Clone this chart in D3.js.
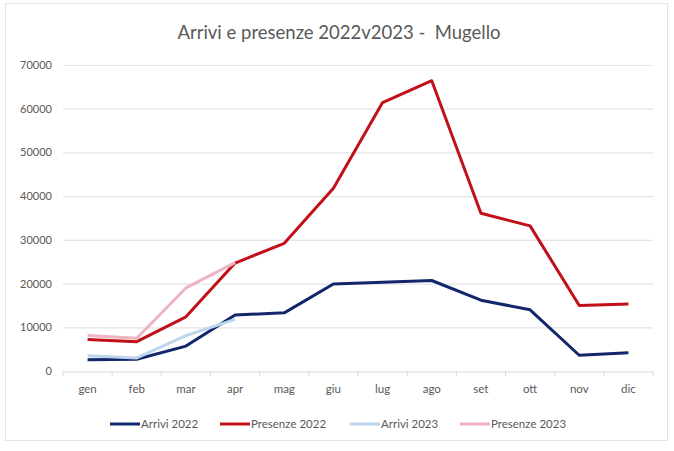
<!DOCTYPE html>
<html>
<head>
<meta charset="utf-8">
<script src="https://cdn.jsdelivr.net/npm/d3@7"></script>
<style>
  body { margin: 0; background: #fff; }
  svg { font-family: Lato, "Open Sans", sans-serif; }
</style>
</head>
<body>
<div id="chart"></div>
<script>
// mesi
const months = ['gen', 'feb', 'mar', 'apr', 'mag', 'giu', 'lug', 'ago', 'set', 'ott', 'nov', 'dic'];
// valori
const arrivi2022 = [2600, 2700, 5700, 12800, 13300, 19900, 20300, 20700, 16200, 14000, 3600, 4200];
const presenze2022 = [7200, 6700, 12400, 24700, 29200, 41800, 61400, 66400, 36100, 33200, 15000, 15300];
const arrivi2023 = [3500, 3000, 8100, 11800];
const presenze2023 = [8100, 7500, 19000, 24800];
const yTicks = [0, 10000, 20000, 30000, 40000, 50000, 60000, 70000];

const series = [
  { name: 'Arrivi 2022', values: arrivi2022, color: '#13266b' },
  { name: 'Presenze 2022', values: presenze2022, color: '#c2101a' },
  { name: 'Arrivi 2023', values: arrivi2023, color: '#bcd6ec' },
  { name: 'Presenze 2023', values: presenze2023, color: '#f2b3c0' },
];

const width = 674, height = 451;
const margin = { left: 63, right: 21, top: 65, bottom: 80 };

const svg = d3.select('#chart').append('svg')
  .attr('width', width)
  .attr('height', height);

// cornice
svg.append('rect')
  .attr('x', 5.5).attr('y', 3.5)
  .attr('width', 662).attr('height', 437)
  .attr('fill', '#fff')
  .attr('stroke', '#e3e3e3');

svg.append('text')
  .attr('x', 339).attr('y', 39)
  .attr('text-anchor', 'middle')
  .attr('font-size', 18.5)
  .attr('fill', '#595959')
  .style('white-space', 'pre')
  .text('Arrivi e presenze 2022v2023 -  Mugello');

const x = d3.scaleBand()
  .domain(months)
  .range([margin.left, width - margin.right]);

const y = d3.scaleLinear()
  .domain([0, 70000])
  .range([371, 65]);

// griglia
svg.append('g')
  .selectAll('line')
  .data(yTicks.slice(1))
  .join('line')
  .attr('x1', margin.left).attr('x2', width - margin.right)
  .attr('y1', d => y(d) + 0.5).attr('y2', d => y(d) + 0.5)
  .attr('stroke', '#e4e4e4')
  .attr('stroke-width', 1.2);

// asse y
const yAxis = svg.append('g')
  .attr('transform', `translate(${margin.left - 8},0)`)
  .call(d3.axisLeft(y).tickValues(yTicks).tickSize(0).tickFormat(d3.format('d')));
yAxis.select('.domain').remove();
yAxis.selectAll('text').attr('font-size', 11).attr('fill', '#595959').attr('font-family', 'Lato, sans-serif');

// asse x
const xAxis = svg.append('g')
  .attr('transform', `translate(0,${y(0) + 0.5})`)
  .call(d3.axisBottom(x).tickSize(0).tickPadding(13));
xAxis.select('.domain').attr('stroke', '#d9d9d9').attr('stroke-width', 1.2);
xAxis.selectAll('text').attr('font-size', 11.5).attr('fill', '#595959').attr('font-family', 'Lato, sans-serif');

// tacche tra le categorie
svg.append('g')
  .selectAll('line')
  .data(months.concat(['end']))
  .join('line')
  .attr('x1', (d, i) => margin.left + i * x.bandwidth())
  .attr('x2', (d, i) => margin.left + i * x.bandwidth())
  .attr('y1', y(0)).attr('y2', y(0) + 5)
  .attr('stroke', '#d9d9d9');

const line = d3.line()
  .x((d, i) => x(months[i]) + x.bandwidth() / 2)
  .y(d => y(d));

svg.append('g')
  .selectAll('path')
  .data(series)
  .join('path')
  .attr('d', d => line(d.values))
  .attr('fill', 'none')
  .attr('stroke', d => d.color)
  .attr('stroke-width', 3)
  .attr('stroke-linejoin', 'round');

// legenda
const legendX = [110, 220, 350, 460];
const legend = svg.append('g')
  .selectAll('g')
  .data(series)
  .join('g')
  .attr('transform', (d, i) => `translate(${legendX[i]},424)`);
legend.append('line')
  .attr('x1', 0).attr('x2', 30)
  .attr('stroke', d => d.color)
  .attr('stroke-width', 3);
legend.append('text')
  .attr('x', 31).attr('y', 4)
  .attr('font-size', 11.5)
  .attr('fill', '#595959')
  .text(d => d.name);
</script>
</body>
</html>
